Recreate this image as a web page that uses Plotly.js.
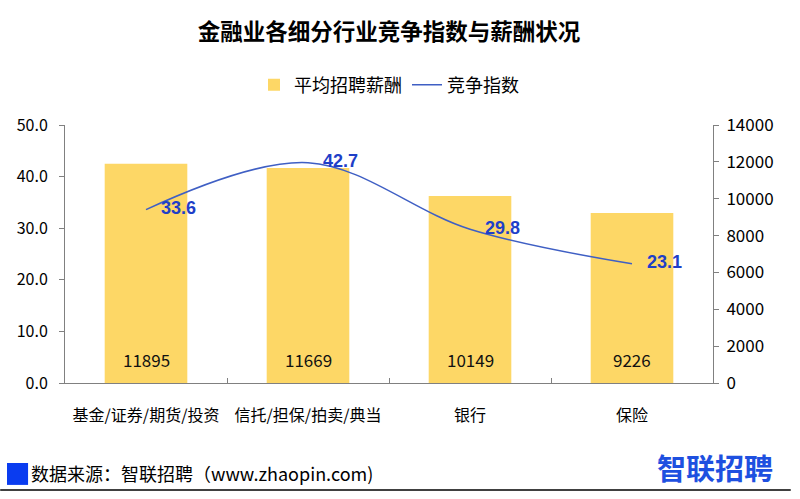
<!DOCTYPE html>
<html>
<head>
<meta charset="utf-8">
<script src="https://cdn.plot.ly/plotly-3.0.1.min.js"></script>
<style>
  html, body { margin: 0; padding: 0; background: #fff; }
  #chart { width: 800px; height: 499px; }
</style>
</head>
<body>
<div id="chart"></div>
<script>
var categories = ["基金/证券/期货/投资", "信托/担保/拍卖/典当", "银行", "保险"];
var salary = [11895, 11669, 10149, 9226];
var competition = [33.6, 42.7, 29.8, 23.1];

var font = "'Noto Sans CJK SC', 'Microsoft YaHei', sans-serif";

// bars go on the right-hand axis (y), the line on the left-hand one (y2) so it draws on top
var bars = {
    x: categories,
    y: salary,
    name: "平均招聘薪酬",
    type: "bar",
    yaxis: "y",
    marker: { color: "#FDD766" },
    hoverinfo: "x+y"
};

var line = {
    x: categories,
    y: competition,
    name: "竞争指数",
    type: "scatter",
    mode: "lines+text",
    yaxis: "y2",
    line: { color: "#3F5FC4", width: 1.5, shape: "spline", smoothing: 1 },
    text: competition.map(function(v){ return "\u00a0\u00a0\u00a0" + v.toFixed(1); }),
    textposition: "middle right",
    textfont: { size: 18, color: "#1F3FC8", family: "Arial, sans-serif", weight: "bold" }
};

// salary values written near the foot of each bar
var barLabels = categories.map(function(c, i){
    return { x: c, y: 0, xref: "x", yref: "y", text: salary[i] + "",
             yanchor: "bottom", yshift: 9, showarrow: false,
             font: { size: 17, color: "#111" } };
});

var layout = {
    width: 800,
    height: 499,
    margin: { l: 65, r: 87, t: 125, b: 116 },
    paper_bgcolor: "#fff",
    plot_bgcolor: "#fff",
    font: { family: font, size: 16, color: "#000" },
    title: {
        text: "<b>金融业各细分行业竞争指数与薪酬状况</b>",
        font: { size: 22.5, color: "#000" },
        xref: "paper", x: 0.5, y: 0.935, yanchor: "middle"
    },
    showlegend: true,
    legend: {
        orientation: "h",
        x: 0.5, xanchor: "center",
        y: 1.155, yanchor: "middle",
        font: { size: 18 },
        traceorder: "normal"
    },
    bargap: 0.49,
    xaxis: {
        showline: true, linecolor: "#808080", linewidth: 1,
        ticks: "inside", tickson: "boundaries", ticklen: 5, tickcolor: "#808080",
        showgrid: false, tickfont: { size: 16 }, ticklabelstandoff: 18
    },
    yaxis: {
        range: [0, 14000], dtick: 2000, tickformat: "d", side: "right",
        showline: true, linecolor: "#808080", ticks: "outside", ticklen: 5, tickcolor: "#808080",
        showgrid: false, zeroline: false, tickfont: { size: 17 }, ticklabelstandoff: 4
    },
    yaxis2: {
        range: [0, 50], dtick: 10, tickformat: ".1f", overlaying: "y", side: "left",
        showline: true, linecolor: "#808080", ticks: "outside", ticklen: 5, tickcolor: "#808080",
        showgrid: false, zeroline: false, tickfont: { size: 16 }, ticklabelstandoff: 8
    },
    shapes: [
        { type: "rect", xref: "paper", yref: "paper", x0: -0.0895, x1: -0.057, y0: -0.31, y1: -0.395,
          fillcolor: "#0A3CF0", line: { width: 0 } },
        { type: "line", xref: "paper", yref: "paper", x0: -0.1, x1: 1.12, y0: -0.415, y1: -0.415,
          line: { color: "#000", width: 1.5 } }
    ],
    annotations: barLabels.concat([
        { text: "数据来源：智联招聘（www.zhaopin.com)", xref: "paper", yref: "paper",
          x: -0.055, y: -0.35, xanchor: "left", yanchor: "middle", showarrow: false,
          font: { size: 18, color: "#000" } },
        { text: "<b>智联招聘</b>", xref: "paper", yref: "paper",
          x: 1.095, y: -0.325, xanchor: "right", yanchor: "middle", showarrow: false,
          font: { size: 29, color: "#1E50E0" } }
    ])
};

Plotly.newPlot("chart", [bars, line], layout, { displayModeBar: false });
</script>
</body>
</html>
